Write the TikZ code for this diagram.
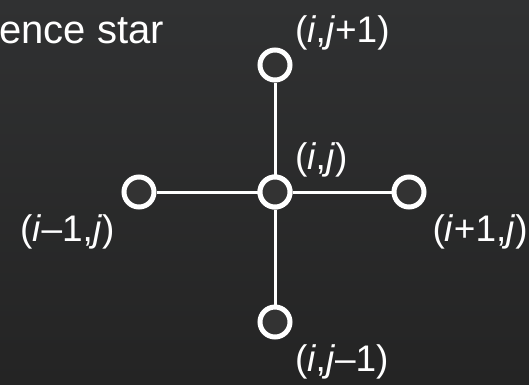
\documentclass[tikz,border=0pt]{standalone}
\usepackage{fontspec}
\setmainfont{Liberation Sans}
\definecolor{bgtop}{HTML}{303132}
\definecolor{bgbot}{HTML}{242424}
\definecolor{nodefill}{HTML}{333333}
\begin{document}
\begin{tikzpicture}[x=1pt,y=-1pt,
  pt/.style={circle,draw=white,line width=5pt,fill=nodefill,minimum size=30pt,inner sep=0pt},
  edge/.style={draw=white,line width=3pt},
  lbl/.style={text=white,font=\fontsize{37}{37}\selectfont,inner sep=0pt}]
\shade[top color=bgtop,bottom color=bgbot] (0,0) rectangle (529,384);
\useasboundingbox (0,0) rectangle (529,384);
\node[lbl,anchor=base west,font=\fontsize{40}{40}\selectfont] (title) at (-1,43) {ence star};
\node[pt] (c) at (275,192) {};
\node[pt] (t) at (275,65) {};
\node[pt] (b) at (275,322) {};
\node[pt] (l) at (139,192) {};
\node[pt] (r) at (409,192) {};
\path[edge] (c) -- (t) (c) -- (b) (c) -- (l) (c) -- (r);
\node[pt] at (c) {};
\node[lbl,anchor=west] (lt) at (295,33) {(\textit{i},\textit{j}+1)};
\node[lbl,anchor=west] (lc) at (295,160) {(\textit{i},\textit{j})};
\node[lbl,anchor=west] (ll) at (20,232) {(\textit{i}–1,\textit{j})};
\node[lbl,anchor=east] (lr) at (528,232) {(\textit{i}+1,\textit{j})};
\node[lbl,anchor=west] (lb) at (295,362) {(\textit{i},\textit{j}–1)};
\end{tikzpicture}
\end{document}
